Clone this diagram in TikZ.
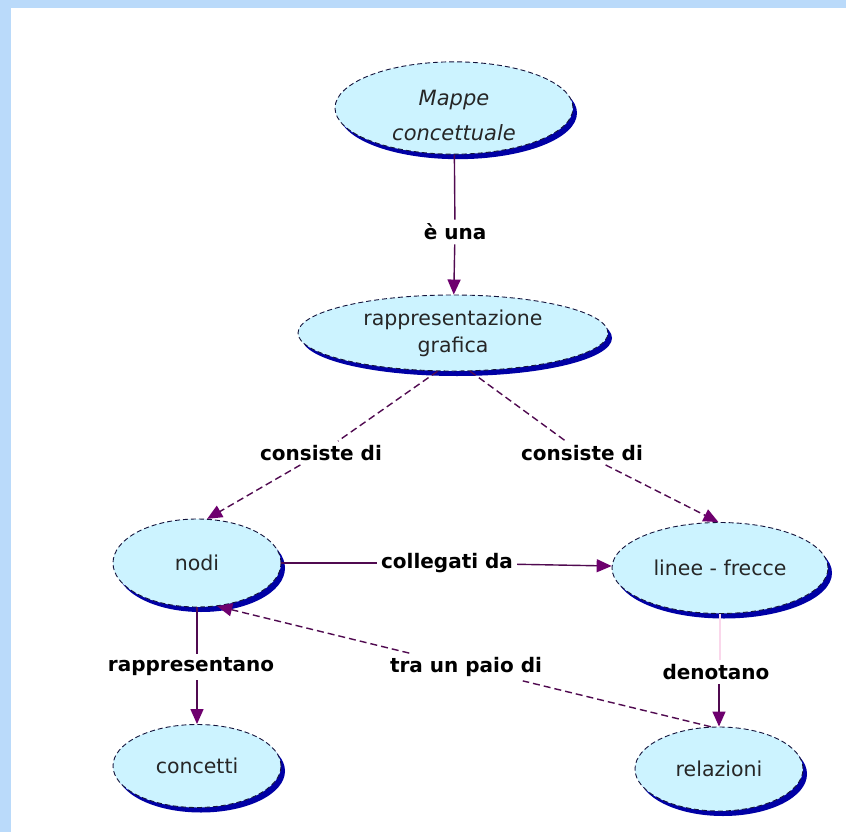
\documentclass[tikz,border=0pt]{standalone}
\usepackage{fontspec}
\setmainfont{DejaVu Sans}
\usetikzlibrary{shapes.geometric,shadows,arrows.meta}
\definecolor{bgblue}{RGB}{186,218,250}
\definecolor{nodefill}{RGB}{204,243,255}
\definecolor{shadowblue}{RGB}{0,0,165}
\definecolor{outline}{RGB}{20,20,60}
\definecolor{linkcol}{RGB}{80,10,80}
\definecolor{arrowcol}{RGB}{110,0,110}
\definecolor{faintpink}{RGB}{250,215,235}
\begin{document}
\begin{tikzpicture}[x=1pt,y=-1pt,
  concept/.style={ellipse, draw=outline, line width=0.9pt, dash pattern=on 5pt off 3pt,
    fill=nodefill, inner sep=0pt, align=center, text=black!85,
    font=\fontsize{20.5}{27}\selectfont,
    drop shadow={shadow xshift=4pt, shadow yshift=-5pt, fill=shadowblue, opacity=1}},
  linklabel/.style={font=\fontsize{20}{24}\selectfont\bfseries, inner sep=4pt, text=black},
  link/.style={draw=linkcol, line width=1.4pt},
  dlink/.style={link, dash pattern=on 7pt off 4pt},
  tip/.style={-{Triangle[width=13pt,length=15pt,color=arrowcol]}}
]
\fill[bgblue] (0,0) rectangle (846,832);
\fill[white] (11,8) rectangle (846,832);
\useasboundingbox (0,0) rectangle (846,832);

\node[concept, minimum width=238pt, minimum height=86pt,
      font=\fontsize{21}{35}\selectfont\itshape] (mappe) at (454,108) {\rule{0pt}{30pt}Mappe\\concettuale};
\node[concept, minimum width=310pt, minimum height=76pt] (rap) at (453,333) {rappresentazione\\grafica};
\node[concept, minimum width=168pt, minimum height=88pt] (nodi) at (197,563) {nodi};
\node[concept, minimum width=216pt, minimum height=91pt] (linee) at (720,568) {linee - frecce};
\node[concept, minimum width=168pt, minimum height=83pt] (concetti) at (197,766) {concetti};
\node[concept, minimum width=168pt, minimum height=84pt] (rel) at (719,769) {relazioni};

\node[linklabel] (eu) at (455,232) {è una};
\node[linklabel] (cd1) at (321,453) {consiste di};
\node[linklabel] (cd2) at (582,453) {consiste di};
\node[linklabel] (coll) at (447,563) {collegati da};
\node[linklabel] (rapp) at (191,667) {rappresentano};
\node[linklabel] (tra) at (466,667) {tra un paio di};
\node[linklabel] (den) at (716,672) {denotano};

\draw[link] (mappe) -- (eu);
\draw[link, tip] (eu) -- (rap);
\draw[dlink] (rap.-112) -- (cd1);
\draw[dlink, tip] (cd1) -- (nodi.77);
\draw[dlink] (rap.-66) -- (cd2);
\draw[dlink, tip] (cd2) -- (linee.92);
\draw[link] (nodi) -- (coll);
\draw[link, tip] (coll) -- (linee);
\draw[link] (nodi.south) -- (nodi.south |- rapp.north);
\draw[link, tip] (concetti.north |- rapp.south) -- (concetti.north);
\draw[dlink] (rel.101) -- (tra);
\draw[dlink, tip] (tra) -- (nodi.-65);
\draw[link, draw=faintpink] (linee.south) -- (linee.south |- den.north);
\draw[link, tip] (rel.north |- den.south) -- (rel.north);
\end{tikzpicture}
\end{document}
